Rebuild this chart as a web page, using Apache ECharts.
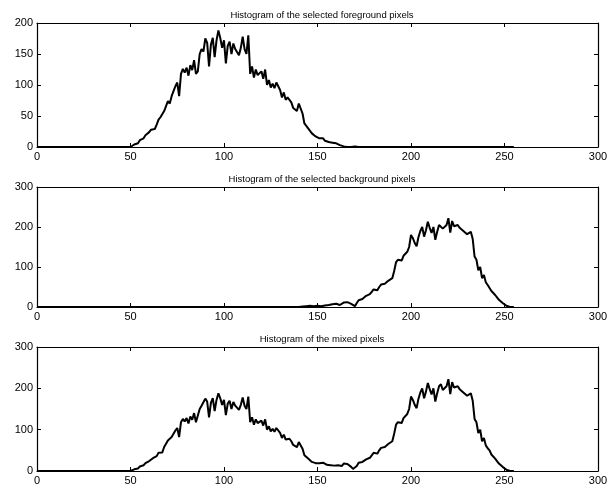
<!DOCTYPE html>
<html>
<head>
<meta charset="utf-8">
<script src="https://cdn.jsdelivr.net/npm/echarts@6/dist/echarts.min.js"></script>
<style>
  html, body { margin: 0; padding: 0; background: #fff; }
  #chart { width: 612px; height: 495px; }
</style>
</head>
<body>
<div id="chart"></div>
<script>
// Grey-level histograms, bins 0..255. Each count list starts at its *Start bin;
// all other bins are zero.
const titles = [
  'Histogram of the selected foreground pixels',
  'Histogram of the selected background pixels',
  'Histogram of the mixed pixels'
];
const xTicks = [0, 50, 100, 150, 200, 250, 300];
const yTicksTop = [0, 50, 100, 150, 200];
const yTicksLower = [0, 100, 200, 300];

const fgStart = 48;
const fgCounts = [
  0, 1, 0, 2, 4, 3, 6, 11, 8, 14, 19, 16, 24, 28, 31, 29, 36, 44, 48, 45,
  58, 66, 74, 70, 82, 90, 98, 104, 82, 118, 126, 120, 128, 115, 132, 124, 140, 118, 122, 150,
  158, 154, 175, 168, 130, 165, 176, 145, 172, 188, 176, 160, 172, 135, 163, 170, 150, 167, 158, 155,
  148, 160, 178, 158, 150, 180, 118, 130, 112, 125, 116, 118, 122, 110, 125, 100, 108, 96, 102, 95,
  104, 106, 92, 80, 88, 76, 80, 78, 72, 63, 66, 58, 70, 68, 54, 38, 40, 30, 28, 22,
  20, 17, 15, 14, 12, 14, 10, 9, 8, 10, 7, 5, 6, 4, 3, 2, 1, 1, 0, 1,
  0, 0, 1, 0
];

const bgStart = 142;
const bgCounts = [
  1, 0, 2, 1, 3, 0, 2, 4, 3, 5, 2, 6, 4, 8, 5, 9, 7, 10, 8, 12,
  5, 10, 11, 13, 12, 13, 8, 4, 2, 10, 17, 22, 20, 25, 28, 26, 32, 38, 44, 48,
  42, 50, 56, 52, 58, 62, 66, 64, 72, 90, 112, 118, 122, 116, 128, 130, 138, 150, 180, 172,
  160, 152, 175, 190, 200, 176, 192, 213, 198, 185, 200, 168, 188, 205, 210, 196, 198, 205, 222, 186,
  215, 202, 200, 205, 198, 196, 190, 192, 182, 184, 188, 170, 126, 118, 92, 100, 72, 80, 62, 55,
  50, 40, 36, 30, 24, 18, 14, 10, 6, 3, 1, 0
];

const mixStart = 48;
const mixCounts = [
  0, 1, 0, 2, 4, 3, 6, 11, 8, 14, 19, 16, 24, 28, 31, 29, 36, 44, 48, 45,
  58, 66, 74, 70, 82, 90, 98, 104, 82, 118, 126, 120, 128, 115, 132, 124, 140, 118, 122, 150,
  158, 154, 175, 168, 130, 165, 176, 145, 172, 188, 176, 160, 172, 135, 163, 170, 150, 167, 158, 155,
  148, 160, 178, 158, 150, 180, 118, 130, 112, 125, 116, 118, 122, 110, 125, 100, 108, 96, 102, 95,
  104, 106, 92, 80, 88, 76, 80, 78, 72, 63, 66, 58, 70, 68, 54, 38, 40, 30, 28, 22,
  20, 19, 18, 19, 17, 20, 16, 15, 18, 14, 16, 13, 15, 14, 16, 12, 18, 19, 17, 14,
  10, 5, 7, 12, 20, 24, 22, 25, 28, 26, 32, 38, 44, 48, 42, 50, 56, 52, 58, 62,
  66, 64, 72, 90, 112, 118, 122, 116, 128, 130, 138, 150, 180, 172, 160, 152, 175, 190, 200, 176,
  192, 213, 198, 185, 200, 168, 188, 205, 210, 196, 198, 205, 222, 186, 215, 202, 200, 205, 198, 196,
  190, 192, 182, 184, 188, 170, 126, 118, 92, 100, 72, 80, 62, 55, 50, 40, 36, 30, 24, 18,
  14, 10, 6, 3, 1, 0
];

function toSeries(start, counts) {
  const out = [];
  for (let b = 0; b < 256; b++) {
    const k = b - start;
    out.push([b, k >= 0 && k < counts.length ? counts[k] : 0]);
  }
  return out;
}

const panels = [
  { data: toSeries(fgStart, fgCounts), yTicks: yTicksTop, top: 23, height: 124 },
  { data: toSeries(bgStart, bgCounts), yTicks: yTicksLower, top: 187, height: 120 },
  { data: toSeries(mixStart, mixCounts), yTicks: yTicksLower, top: 347, height: 124 }
];

const font = 'Liberation Sans, Arial, Helvetica, sans-serif';
const ink = '#000';

const grid = [], xAxis = [], yAxis = [], series = [], title = [];
panels.forEach((p, i) => {
  const yMax = p.yTicks[p.yTicks.length - 1];
  const yStep = p.yTicks[1] - p.yTicks[0];
  grid.push({ left: 37, right: 14, top: p.top, height: p.height, show: false });
  title.push({
    text: titles[i], left: 317, top: p.top - 18, textAlign: 'center',
    textStyle: { fontFamily: font, fontSize: 9.5, fontWeight: 'normal', color: ink }
  });
  const xBase = {
    gridIndex: i, type: 'value', min: xTicks[0], max: xTicks[xTicks.length - 1],
    interval: xTicks[1] - xTicks[0],
    axisLine: { show: true, onZero: false, lineStyle: { color: ink, width: 1.2 } },
    axisTick: { show: true, inside: true, length: 4, lineStyle: { color: ink } },
    splitLine: { show: false }
  };
  xAxis.push(Object.assign({}, xBase, {
    position: 'bottom',
    axisLabel: { color: ink, fontFamily: font, fontSize: 11, margin: 4 }
  }));
  xAxis.push(Object.assign({}, xBase, { position: 'top', axisLabel: { show: false } }));
  const yBase = {
    gridIndex: i, type: 'value', min: 0, max: yMax, interval: yStep,
    axisLine: { show: true, onZero: false, lineStyle: { color: ink, width: 1.2 } },
    axisTick: { show: true, inside: true, length: 4, lineStyle: { color: ink } },
    splitLine: { show: false }
  };
  yAxis.push(Object.assign({}, yBase, {
    position: 'left',
    axisLabel: { color: ink, fontFamily: font, fontSize: 11, margin: 4 }
  }));
  yAxis.push(Object.assign({}, yBase, { position: 'right', axisLabel: { show: false } }));
  series.push({
    type: 'line', xAxisIndex: 2 * i, yAxisIndex: 2 * i, data: p.data,
    showSymbol: false, symbol: 'none', silent: true,
    lineStyle: { color: ink, width: 2 }, z: 3
  });
});

const chart = echarts.init(document.getElementById('chart'), null, { renderer: 'canvas' });
chart.setOption({
  animation: false, backgroundColor: '#fff',
  title, grid, xAxis, yAxis, series
});
</script>
</body>
</html>
